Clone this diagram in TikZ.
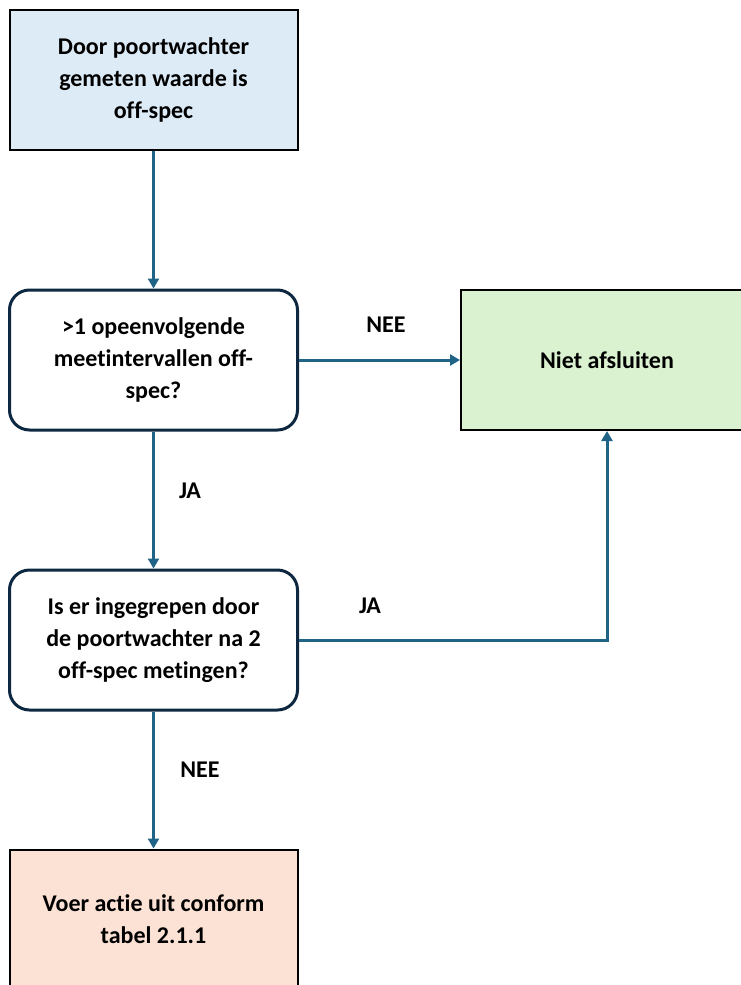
\documentclass[tikz,border=0pt]{standalone}
\usepackage{fontspec}
\setmainfont[Ligatures=NoCommon]{Carlito}
\usetikzlibrary{arrows.meta}
\definecolor{flowblue}{HTML}{1F6487}
\definecolor{framenavy}{HTML}{0E2841}
\definecolor{startblue}{HTML}{DDEBF7}
\definecolor{stopgreen}{HTML}{DAF2D0}
\definecolor{actpeach}{HTML}{FBE2D5}
\tikzset{
  stepbox/.style={draw=black,line width=2pt,minimum width=288pt,minimum height=140pt,align=center,font=\fontsize{24}{32}\selectfont\bfseries},
  askbox/.style={stepbox,draw=framenavy,line width=3pt,rounded corners=20pt,fill=white},
  flow/.style={draw=flowblue,line width=3pt,-{Triangle[length=10pt,width=11pt]}},
  answer/.style={font=\fontsize{24}{28}\selectfont\bfseries}
}
\begin{document}
\begin{tikzpicture}[x=1pt,y=-1pt]
\clip (0,0) rectangle (741,985);
\fill[white] (0,0) rectangle (741,985);
\node[stepbox,fill=startblue] (start) at (153.5,79.5) {Door poortwachter\\gemeten waarde is\\off-spec};
\node[askbox] (askA) at (153.5,360) {>1 opeenvolgende\\meetintervallen off-\\spec?};
\node[stepbox,fill=stopgreen,minimum width=292pt] (stop) at (607,360) {Niet afsluiten};
\node[askbox] (askB) at (153.5,640) {Is er ingegrepen door\\de poortwachter na 2\\off-spec metingen?};
\node[stepbox,fill=actpeach] (act) at (153.5,919.5) {Voer actie uit conform\\tabel 2.1.1};
\draw[flow] (start) -- (askA);
\draw[flow] (askA) -- (stop);
\draw[flow] (askA) -- (askB);
\draw[flow] (askB) -- (act);
\draw[flow] (askB.east) -| (stop.south);
\node[answer] (nee1) at (386,325) {NEE};
\node[answer] (ja1) at (190,491) {JA};
\node[answer] (ja2) at (370,606) {JA};
\node[answer] (nee2) at (200,770) {NEE};
\end{tikzpicture}
\end{document}
